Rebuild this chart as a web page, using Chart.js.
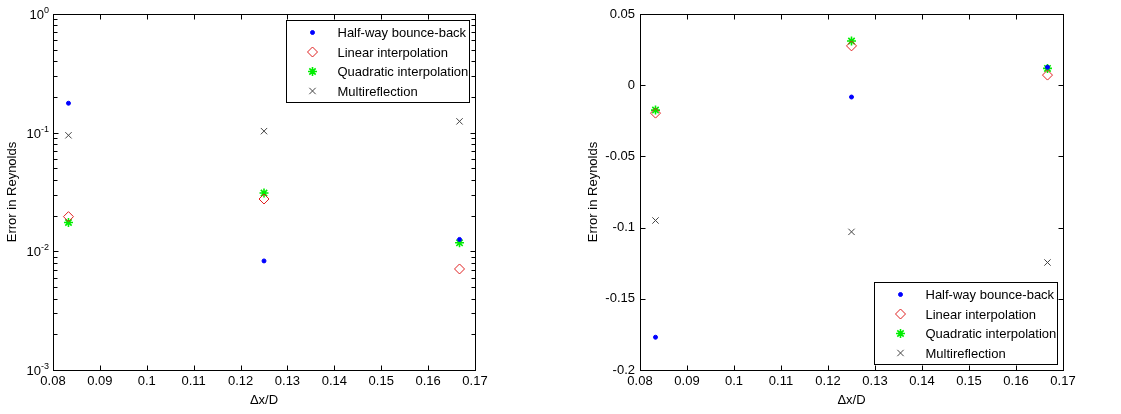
<!DOCTYPE html>
<html>
<head>
<meta charset="utf-8">
<script src="https://cdn.jsdelivr.net/npm/chart.js@4/dist/chart.umd.min.js"></script>
<style>
  html, body { margin: 0; padding: 0; background: #fff; }
  body { width: 1121px; height: 414px; position: relative; overflow: hidden; }
  canvas { position: absolute; top: 0; }
  #logCanvas { left: 0; }
  #linCanvas { left: 561px; }
</style>
</head>
<body>
<canvas id="logCanvas" width="560" height="414"></canvas>
<canvas id="linCanvas" width="560" height="414"></canvas>
<script>
// data
const dxD = [0.0833, 0.125, 0.1667];
const halfwayBB = [-0.177, -0.0083, 0.0126];
const linearInterp = [-0.0196, 0.0276, 0.0071];
const quadraticInterp = [-0.0175, 0.031, 0.0118];
const multireflection = [-0.095, -0.103, -0.1245];

const seriesNames = ["Half-way bounce-back", "Linear interpolation", "Quadratic interpolation", "Multireflection"];

const xTicks = [0.08, 0.09, 0.1, 0.11, 0.12, 0.13, 0.14, 0.15, 0.16, 0.17];
const yTicksLin = [-0.2, -0.15, -0.1, -0.05, 0, 0.05];
const yTicksLog = [0.001, 0.01, 0.1, 1];
const logExponents = ["-3", "-2", "-1", "0"];

const FONT = "'Liberation Sans', Arial, sans-serif";

// marker styles, MATLAB-like
const markers = [
  { pointStyle: "circle", radius: 2, color: "#0000ff", fill: "#0000ff", borderWidth: 1 },
  { pointStyle: "rectRot", radius: 5, color: "#e02020", fill: "rgba(0,0,0,0)", borderWidth: 1 },
  { pointStyle: "star", radius: 4.5, color: "#00ee00", fill: "#00ee00", borderWidth: 1.6 },
  { pointStyle: "crossRot", radius: 4.5, color: "#444444", fill: "#444444", borderWidth: 1 }
];

function makeDatasets(useAbs) {
  const all = [halfwayBB, linearInterp, quadraticInterp, multireflection];
  return all.map((vals, i) => ({
    label: seriesNames[i],
    data: vals.map((v, j) => ({ x: dxD[j], y: useAbs ? Math.abs(v) : v })),
    pointStyle: markers[i].pointStyle,
    pointRadius: markers[i].radius,
    pointBorderColor: markers[i].color,
    pointBackgroundColor: markers[i].fill,
    pointBorderWidth: markers[i].borderWidth,
    showLine: false
  }));
}

// box, inward ticks on all four sides, log labels, legend
const matlabAxes = {
  id: "matlabAxes",
  afterDraw(chart, args, opts) {
    const ctx = chart.ctx;
    const a = chart.chartArea;
    const xs = chart.scales.x, ys = chart.scales.y;
    const L = Math.round(a.left) + 0.5, R = Math.round(a.right) + 0.5;
    const T = Math.round(a.top) + 0.5, B = Math.round(a.bottom) + 0.5;
    ctx.save();
    ctx.strokeStyle = "#000";
    ctx.lineWidth = 1;
    ctx.beginPath();
    xTicks.forEach(v => {
      const px = Math.round(xs.getPixelForValue(v)) + 0.5;
      ctx.moveTo(px, B); ctx.lineTo(px, B - 5);
      ctx.moveTo(px, T); ctx.lineTo(px, T + 5);
    });
    const yt = opts.log ? yTicksLog : yTicksLin;
    yt.forEach(v => {
      const py = Math.round(ys.getPixelForValue(v)) + 0.5;
      ctx.moveTo(L, py); ctx.lineTo(L + 5, py);
      ctx.moveTo(R, py); ctx.lineTo(R - 5, py);
    });
    if (opts.log) {
      for (let d = 0; d < yTicksLog.length - 1; d++) {
        for (let k = 2; k <= 9; k++) {
          const py = Math.round(ys.getPixelForValue(yTicksLog[d] * k)) + 0.5;
          ctx.moveTo(L, py); ctx.lineTo(L + 4, py);
          ctx.moveTo(R, py); ctx.lineTo(R - 4, py);
        }
      }
    }
    ctx.stroke();
    ctx.strokeRect(L, T, R - L, B - T);

    // 10^n labels
    if (opts.log) {
      ctx.fillStyle = "#000";
      yTicksLog.forEach((v, i) => {
        const py = ys.getPixelForValue(v);
        ctx.font = "9px " + FONT;
        const ew = ctx.measureText(logExponents[i]).width;
        ctx.textAlign = "left";
        ctx.textBaseline = "alphabetic";
        const xEnd = a.left - 4;
        ctx.fillText(logExponents[i], xEnd - ew, py - 1);
        ctx.font = "13px " + FONT;
        ctx.textAlign = "right";
        ctx.fillText("10", xEnd - ew, py + 5);
      });
    }

    // legend
    const lg = opts.legend;
    const bx = lg.corner === "ne" ? Math.round(a.right - 6 - lg.w) + 0.5 : Math.round(a.right - 6 - lg.w) + 0.5;
    const by = lg.corner === "ne" ? Math.round(a.top + 6) + 0.5 : Math.round(a.bottom - 6 - lg.h) + 0.5;
    ctx.fillStyle = "#fff";
    ctx.fillRect(bx, by, lg.w, lg.h);
    ctx.strokeStyle = "#000";
    ctx.strokeRect(bx, by, lg.w, lg.h);
    ctx.font = "13px " + FONT;
    ctx.textAlign = "left";
    ctx.textBaseline = "middle";
    seriesNames.forEach((name, i) => {
      const cy = by + 12 + i * 19.5;
      const m = markers[i];
      ctx.strokeStyle = m.color;
      ctx.fillStyle = m.fill;
      ctx.lineWidth = m.borderWidth;
      Chart.helpers.drawPoint(ctx, { pointStyle: m.pointStyle, radius: m.radius, rotation: 0, borderWidth: m.borderWidth }, bx + 26, cy);
      ctx.fillStyle = "#000";
      ctx.fillText(name, bx + 51, cy + 1);
    });
    ctx.restore();
  }
};

function buildChart(canvasId, isLog, plotLeft, padRight, yTitlePad, legendCorner) {
  const ctx = document.getElementById(canvasId).getContext("2d");
  const tickFont = { family: FONT, size: 13 };
  return new Chart(ctx, {
    type: "scatter",
    data: { datasets: makeDatasets(isLog) },
    options: {
      responsive: false,
      animation: false,
      layout: { padding: { left: 0, top: 14, right: padRight, bottom: 0 } },
      plugins: {
        legend: { display: false },
        tooltip: { enabled: false },
        matlabAxes: { log: isLog, legend: { corner: legendCorner, w: 183, h: 82 } }
      },
      scales: {
        x: {
          type: "linear",
          min: 0.08,
          max: 0.17,
          afterBuildTicks: s => { s.ticks = xTicks.map(v => ({ value: v })); },
          afterFit: s => { s.height = 44; },
          ticks: {
            color: "#000",
            font: tickFont,
            padding: 4,
            maxRotation: 0,
            autoSkip: false,
            callback: v => String(Math.round(v * 100) / 100)
          },
          grid: { display: false, drawTicks: false },
          border: { display: false },
          title: { display: true, text: "\u0394x/D", color: "#000", font: tickFont, padding: { top: 0, bottom: 6 } }
        },
        y: {
          type: isLog ? "logarithmic" : "linear",
          min: isLog ? 0.001 : -0.2,
          max: isLog ? 1 : 0.05,
          afterBuildTicks: s => { s.ticks = (isLog ? yTicksLog : yTicksLin).map(v => ({ value: v })); },
          afterFit: s => { s.width = plotLeft; },
          ticks: {
            display: !isLog,
            color: "#000",
            font: tickFont,
            padding: 5,
            autoSkip: false,
            callback: v => String(Math.round(v * 1000) / 1000)
          },
          grid: { display: false, drawTicks: false },
          border: { display: false },
          title: { display: true, text: "Error in Reynolds", color: "#000", font: tickFont, padding: { top: yTitlePad, bottom: 0 } }
        }
      }
    },
    plugins: [matlabAxes]
  });
}

buildChart("logCanvas", true, 53, 85, 5, "ne");
buildChart("linCanvas", false, 79, 58, 25, "se");
</script>
</body>
</html>
